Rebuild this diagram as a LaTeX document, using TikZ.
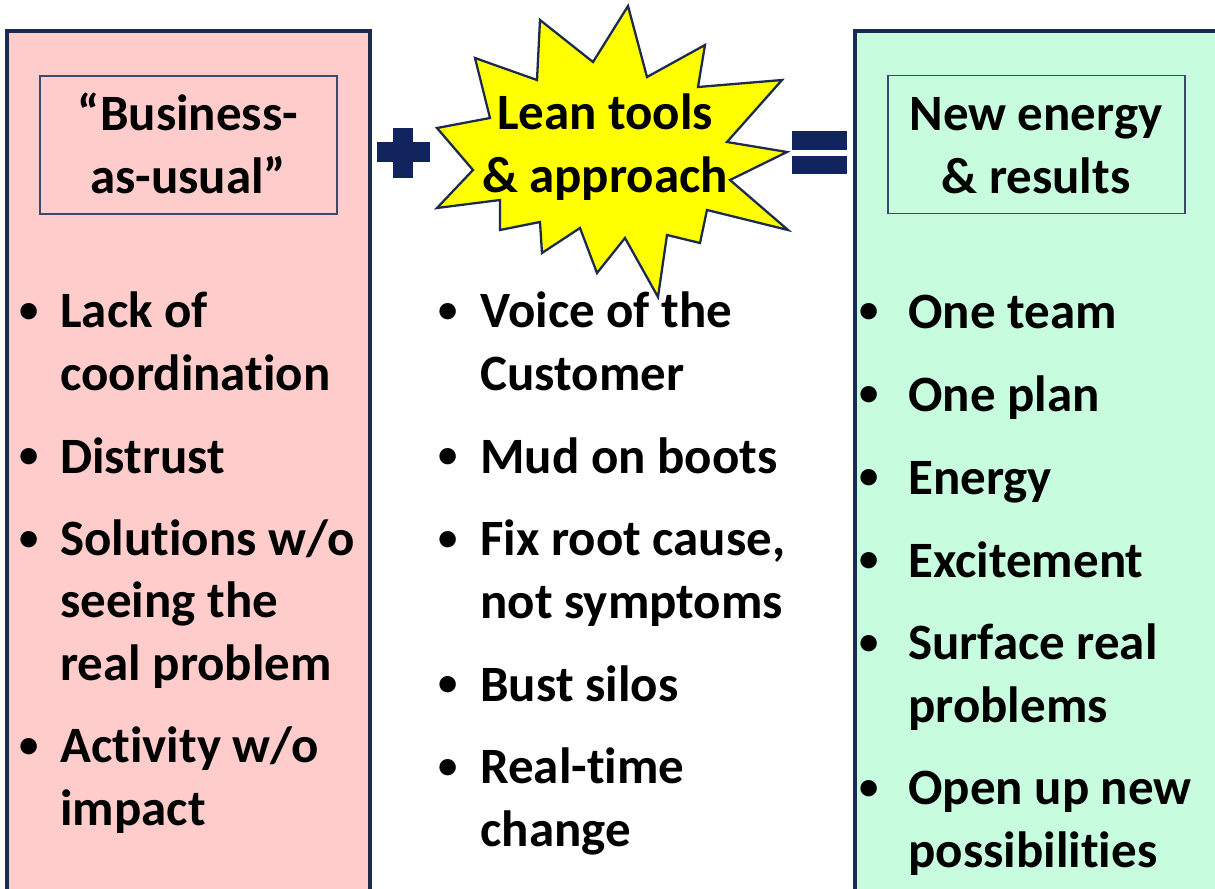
\documentclass[tikz,border=0pt]{standalone}
\usepackage{fontspec}
\setmainfont[Ligatures=NoCommon]{Carlito}
\usepackage{tikz}
\usetikzlibrary{positioning}
\definecolor{navyline}{HTML}{1C2B4D}
\definecolor{signblue}{HTML}{12245E}
\definecolor{pinkfill}{HTML}{FFCCCC}
\definecolor{mintfill}{HTML}{C8FCDE}
\definecolor{titleline}{HTML}{3A4A6A}
\definecolor{staryellow}{HTML}{FFFF00}

\begin{document}
\begin{tikzpicture}[
    x=0.02cm, y=-0.02cm,
    every node/.style={font=\bfseries\fontsize{29pt}{35.3pt}\selectfont, inner sep=0pt},
    outerbox/.style={draw=navyline, line width=1.8pt},
    titlebox/.style={draw=titleline, line width=0.8pt, rectangle, minimum width=5.94cm, minimum height=2.76cm},
    itemtext/.style={anchor=base west, align=left},
    bulletdot/.style={anchor=base, font=\bfseries\fontsize{22pt}{26pt}\selectfont, yshift=3pt}
]
    \useasboundingbox (0,0) rectangle (1215,889);
    \clip (0,0) rectangle (1215,889);

    % === COLUMN PANELS ===
    \draw[outerbox, fill=pinkfill] (7,31) rectangle (370,905);
    \draw[outerbox, fill=mintfill] (855,31) rectangle (1230,905);

    % titles (base = last line)
    \node[titlebox] (baubox) at (188.5,145) {};
    \node[anchor=base, align=center] (bautext) at (188,193) {“Business-\\as-usual”};

    \node[titlebox] (newbox) at (1036.5,144.5) {};
    \node[anchor=base, align=center] (newtext) at (1036,193) {New energy\\\& results};

    % === STAR ===
    \draw[navyline, line width=1.3pt, fill=staryellow]
        (628,6) -- (647,77) -- (705,45) -- (698,87) -- (782,80) -- (727,142)
        -- (787,152) -- (730,180) -- (788,230) -- (707,210) -- (700,243)
        -- (667,235) -- (658,297) -- (625,238) -- (597,273) -- (580,228)
        -- (542,253) -- (540,222) -- (500,230) -- (500,200) -- (437,208)
        -- (473,170) -- (437,128) -- (490,118) -- (475,58) -- (537,80)
        -- (540,20) -- (593,62) -- cycle;
    \node[anchor=base, align=center] (leantext) at (605,192) {Lean tools\\\& approach};

    % === PLUS AND EQUALS ===
    \fill[signblue] (377,142) rectangle (430,162);
    \fill[signblue] (393,128) rectangle (413,178);
    \fill[signblue] (792,131) rectangle (847,150);
    \fill[signblue] (792,156) rectangle (847,174);

    % === BULLET LISTS ===
    % \y = first line, \z = last line
    \foreach \y/\z/\txt [count=\i] in {328/390/{Lack of\\coordination}, 473/473/{Distrust},
            556/680/{Solutions w/o\\seeing the\\real problem}, 763/825/{Activity w/o\\impact}} {
        \node[bulletdot] (lb\i) at (29,\y) {•};
        \node[itemtext] (li\i) at (60,\z) {\txt};
    }

    \foreach \y/\z/\txt [count=\i] in {328/390/{Voice of the\\Customer}, 473/473/{Mud on boots},
            556/618/{Fix root cause,\\not symptoms}, 701/701/{Bust silos}, 784/846/{Real-time\\change}} {
        \node[bulletdot] (mb\i) at (448,\y) {•};
        \node[itemtext] (mi\i) at (480,\z) {\txt};
    }

    \foreach \y/\z/\txt [count=\i] in {328/328/{One team}, 411/411/{One plan}, 494/494/{Energy},
            577/577/{Excitement}, 660/722/{Surface real\\problems}, 805/867/{Open up new\\possibilities}} {
        \node[bulletdot] (rb\i) at (869,\y) {•};
        \node[itemtext] (ri\i) at (908,\z) {\txt};
    }
\end{tikzpicture}
\end{document}
